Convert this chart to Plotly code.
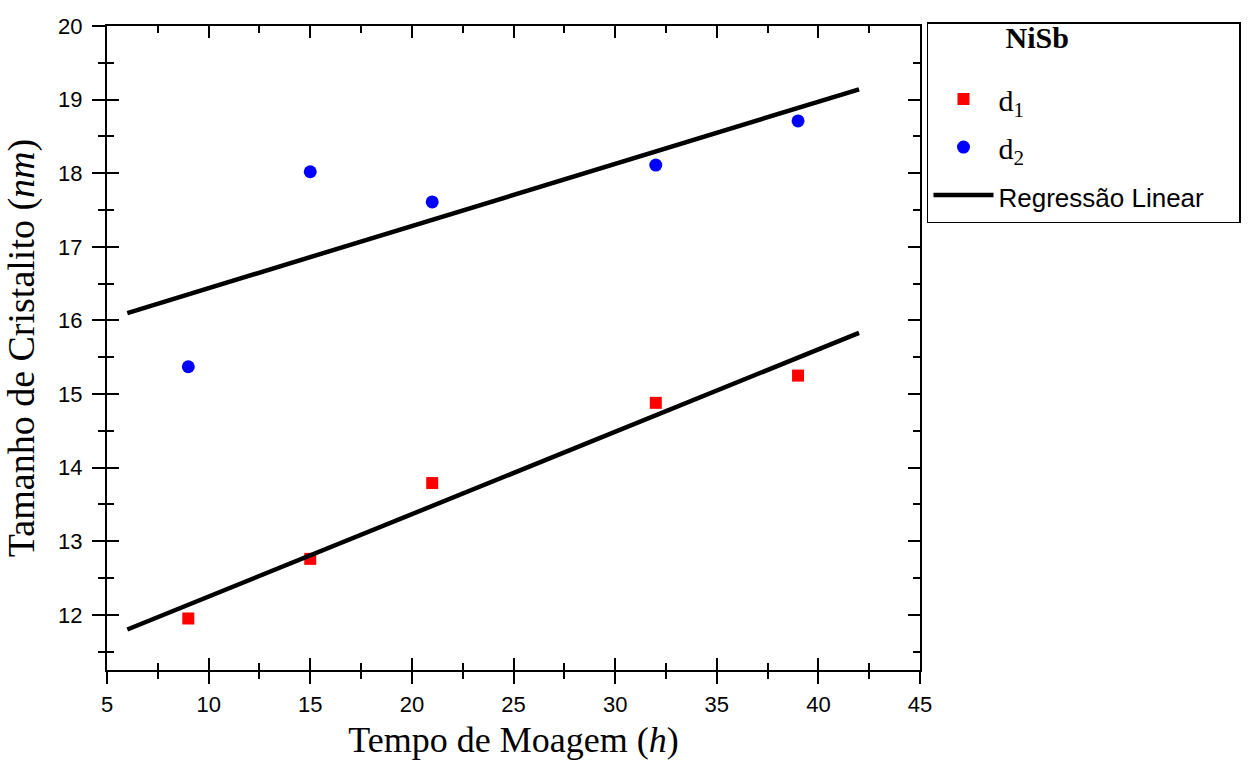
import plotly.graph_objects as go

# Data
x_time = [9, 15, 21, 32, 39]
d1_vals = [11.95, 12.76, 13.79, 14.88, 15.25]
d2_vals = [15.37, 18.02, 17.61, 18.11, 18.71]

fit_x = [6, 42]
fit_d1 = [11.80, 15.83]
fit_d2 = [16.10, 19.14]

x_ticks = [5, 10, 15, 20, 25, 30, 35, 40, 45]
y_ticks = [12, 13, 14, 15, 16, 17, 18, 19, 20]

SERIF = "Liberation Serif, Times New Roman, serif"
SANS = "Liberation Sans, Arial, sans-serif"
NB = "\u00a0"

fig = go.Figure()

fig.add_trace(go.Scatter(
    x=x_time, y=d1_vals, mode="markers", name="d<sub>1</sub>",
    marker=dict(symbol="square", size=12, color="#FF0000"),
    legendgroup="a",
))
fig.add_trace(go.Scatter(
    x=x_time, y=d2_vals, mode="markers", name="d<sub>2</sub>",
    marker=dict(symbol="circle", size=13, color="#0000FF"),
    legendgroup="b",
))
fig.add_trace(go.Scatter(
    x=fit_x, y=fit_d2, mode="lines",
    name='<span style="font-family:Liberation Sans, Arial; font-size:26px">Regressão Linear</span>' + NB * 4,
    line=dict(color="black", width=4.5), legendgroup="c",
    xaxis="x2", yaxis="y2",
))
fig.add_trace(go.Scatter(
    x=fit_x, y=fit_d1, mode="lines", showlegend=False,
    line=dict(color="black", width=4.5), legendgroup="c",
    xaxis="x2", yaxis="y2",
))

common_ax = dict(showgrid=False, zeroline=False, linecolor="black", linewidth=2,
                 tickcolor="black", tickwidth=2)

fig.update_layout(
    width=1253, height=771,
    margin=dict(l=107, r=333, t=26, b=101),
    plot_bgcolor="white", paper_bgcolor="white",
    showlegend=True,
    xaxis=dict(
        range=[5, 45], tickvals=x_ticks, ticks="outside", ticklen=12,
        showline=True, mirror=True, ticklabelstandoff=2,
        minor=dict(dtick=2.5, ticks="outside", ticklen=7, tickcolor="black", tickwidth=2),
        tickfont=dict(family=SANS, size=22, color="black"),
        title=dict(text="Tempo de Moagem (<i>h</i>)", font=dict(family=SERIF, size=36, color="black"), standoff=10),
        **common_ax,
    ),
    yaxis=dict(
        range=[11.25, 20], tickvals=y_ticks, ticks="outside", ticklen=13,
        showline=True, mirror=True, ticklabelstandoff=5,
        minor=dict(dtick=0.5, ticks="outside", ticklen=7, tickcolor="black", tickwidth=2),
        tickfont=dict(family=SANS, size=22, color="black"),
        title=dict(text="Tamanho de Cristalito (<i>nm</i>)",
                   font=dict(family=SERIF, size=38, color="black"), standoff=12),
        **common_ax,
    ),
    xaxis2=dict(
        overlaying="x", matches="x", anchor="y2", side="bottom",
        range=[5, 45], tickvals=x_ticks, ticks="inside", ticklen=12,
        showline=False, mirror="ticks", showticklabels=False,
        minor=dict(dtick=2.5, ticks="inside", ticklen=7, tickcolor="black", tickwidth=2),
        **common_ax,
    ),
    yaxis2=dict(
        overlaying="y", matches="y", anchor="x2", side="left",
        range=[11.25, 20], tickvals=y_ticks, ticks="inside", ticklen=12,
        showline=False, mirror="ticks", showticklabels=False,
        minor=dict(dtick=0.5, ticks="inside", ticklen=7, tickcolor="black", tickwidth=2),
        **common_ax,
    ),
    legend=dict(
        x=1.0086, y=1.006, xanchor="left", yanchor="top",
        bgcolor="white", bordercolor="black", borderwidth=1.5,
        font=dict(family=SERIF, size=30, color="black"),
        title=dict(text='<span style="font-size:30px">' + NB * 10 + "<b>NiSb</b></span><br>" + NB,
                   font=dict(family=SERIF, size=19, color="black")),
        tracegroupgap=6,
        itemwidth=60,
    ),
)

fig.write_html("out.html", config={"displayModeBar": False},
               post_script="document.body.style.margin='0';")
